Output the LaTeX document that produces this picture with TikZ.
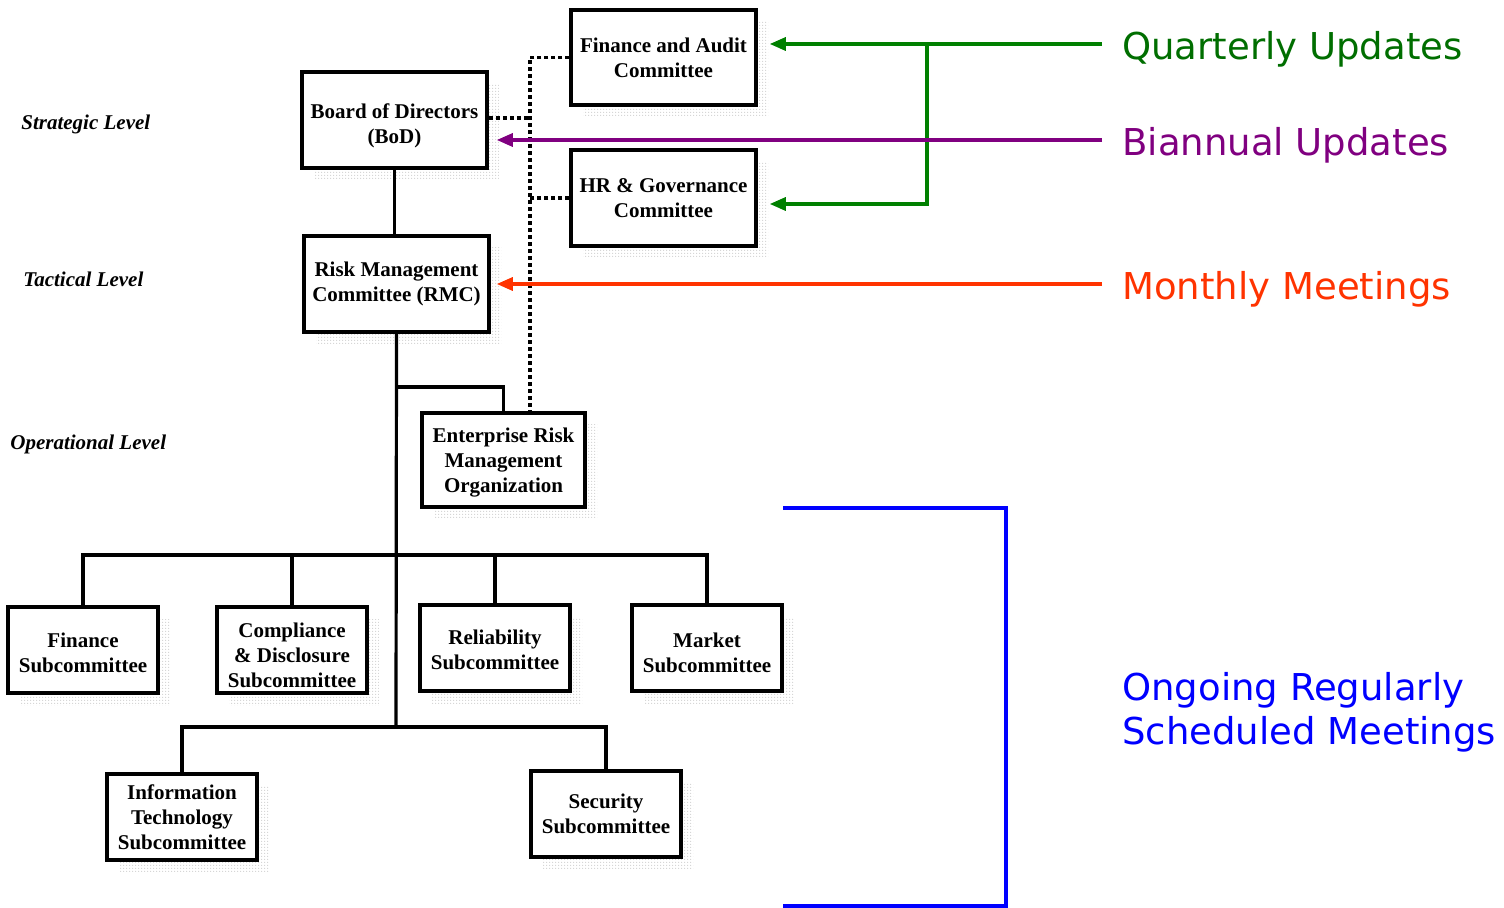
\documentclass[tikz,border=0pt]{standalone}
\usepackage{fontspec}
\setmainfont{Liberation Serif}
\newfontfamily\verd{DejaVu Sans}
\usetikzlibrary{arrows.meta,shadows,patterns,calc}
\definecolor{qgreen}{RGB}{0,128,0}
\definecolor{qtext}{RGB}{0,110,0}
\definecolor{bpurple}{RGB}{128,0,128}
\definecolor{mred}{RGB}{255,51,0}
\definecolor{oblue}{RGB}{0,0,255}
\pgfdeclarepatternformonly{finedots}{\pgfpointorigin}{\pgfqpoint{1.5pt}{1.5pt}}{\pgfqpoint{1.5pt}{1.5pt}}%
  {\pgfpathcircle{\pgfqpoint{0.5pt}{0.5pt}}{0.3pt}\pgfusepath{fill}}
\newcommand{\dnstrut}[1]{\rule{0pt}{#1}}
\tikzset{
  orgbox/.style={draw=black, line width=1.75pt, fill=white, align=center,
    font=\fontsize{10.5}{12.5}\selectfont\bfseries, inner sep=2pt,
    drop shadow={shadow xshift=6pt, shadow yshift=-6pt, opacity=1,
      pattern=finedots, pattern color=gray!90, draw=none}},
  conn/.style={line width=1.6pt, black},
  dotline/.style={line width=1.8pt, black, dash pattern=on 2pt off 1.5pt},
  colline/.style={line width=1.6pt},
  tip/.style={-{Triangle[length=8pt,width=6.5pt]}},
  lvl/.style={anchor=west, inner sep=0pt, font=\fontsize{10.5}{12.5}\selectfont\bfseries\itshape},
  rlab/.style={anchor=west, inner sep=0pt, align=left, font=\verd\fontsize{18.5}{22}\selectfont},
}
\begin{document}
\begin{tikzpicture}[x=0.5pt,y=-0.5pt]
\useasboundingbox (0,0) rectangle (1504,908);

% boxes
\node[orgbox, minimum width=92.5pt, minimum height=47.5pt] (fa) at (663.5,57.5) {Finance and Audit\\Committee};
\node[orgbox, minimum width=92.5pt, minimum height=48pt] (bod) at (394.5,120) {\dnstrut{13.3pt}Board of Directors\\(BoD)};
\node[orgbox, minimum width=92.5pt, minimum height=48pt] (hr) at (663.5,198) {HR \& Governance\\Committee};
\node[orgbox, minimum width=92.5pt, minimum height=48pt] (rmc) at (396.5,284) {Risk Management\\Committee (RMC)};
\node[orgbox, minimum width=81.5pt, minimum height=47pt] (erm) at (503.5,460) {\dnstrut{10.3pt}Enterprise Risk\\Management\\Organization};
\node[orgbox, minimum width=75pt, minimum height=43pt] (fin) at (83,650) {\dnstrut{10.3pt}Finance\\Subcommittee};
\node[orgbox, minimum width=75pt, minimum height=43pt] (cmp) at (292,650) {\dnstrut{12.3pt}Compliance\\\& Disclosure\\Subcommittee};
\node[orgbox, minimum width=75pt, minimum height=43pt] (rel) at (495,648) {\dnstrut{9.5pt}Reliability\\Subcommittee};
\node[orgbox, minimum width=75pt, minimum height=43pt] (mkt) at (707,648) {\dnstrut{11.8pt}Market\\Subcommittee};
\node[orgbox, minimum width=75pt, minimum height=43pt] (it) at (182,817) {Information\\Technology\\Subcommittee};
\node[orgbox, minimum width=75pt, minimum height=43pt] (sec) at (606,814) {Security\\Subcommittee};

% level labels
\node[lvl] (sl) at (21,124) {Strategic Level};
\node[lvl] (tl) at (23,279) {Tactical Level};
\node[lvl] (ol) at (10,444) {Operational Level};

% right labels
\node[rlab, text=qtext] (qu) at (1122,49) {Quarterly Updates};
\node[rlab, text=bpurple] (bu) at (1122,145) {Biannual Updates};
\node[rlab, text=mred] (mm) at (1122,289) {Monthly Meetings};
\node[rlab, text=oblue] (og) at (1122,712) {Ongoing Regularly\\Scheduled Meetings};

% solid connectors
\coordinate (b1) at (396,387);
\coordinate (b2) at (396,555);
\coordinate (b3) at (396,727);
\draw[conn] (bod.south) -- (bod.south |- rmc.north);
\draw[conn] (rmc.south) -- (b3);
\draw[conn] (b1) -| (erm.north);
\draw[conn] (fin.north) |- (mkt.north |- b2) -- (mkt.north);
\draw[conn] (cmp.north) -- (cmp.north |- b2);
\draw[conn] (rel.north) -- (rel.north |- b2);
\draw[conn] (it.north) |- (sec.north |- b3) -- (sec.north);

% dotted connectors
\coordinate (dt) at (530,57);
\coordinate (bdx) at ([yshift=1pt]bod.east);
\draw[dotline] (fa.west) -- (dt |- fa.west) -- (dt |- erm.north);
\draw[dotline] (hr.west) -- (dt |- hr.west);
\draw[dotline] (bdx) -- (dt |- bdx);

% coloured lines
\coordinate (qs) at (1102,44);
\coordinate (qj) at (927,44);
\coordinate (hre) at ([xshift=6pt,yshift=-3pt]hr.east);
\draw[colline, qgreen, tip] (qs) -- ([xshift=6pt]fa.east |- qs);
\draw[colline, qgreen, tip] (qj) |- (hre);
\coordinate (bs) at (1102,140);
\draw[colline, bpurple, tip] (bs) -- ([xshift=4pt]bod.east |- bs);
\coordinate (ms) at (1102,284);
\draw[colline, mred, tip] (ms) -- ([xshift=3pt]rmc.east |- ms);
\coordinate (o1) at (783,508);
\coordinate (o2) at (1006,906);
\coordinate (o3) at (783,906);
\draw[colline, oblue] (o1) -| (o2) -- (o3);
\end{tikzpicture}
\end{document}
